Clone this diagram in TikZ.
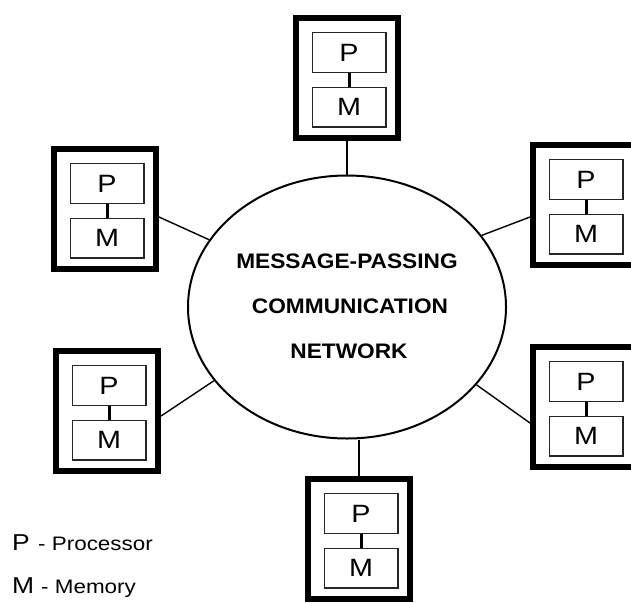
\documentclass[tikz,border=0pt]{standalone}
\usepackage{fontspec}
\setmainfont{Liberation Sans}
\newfontfamily\widesans[FakeStretch=1.15]{Liberation Sans}
\newfontfamily\widebold[FakeStretch=1.08]{Liberation Sans Bold}
\usetikzlibrary{shapes.geometric}

\tikzset{
  frame/.style={draw, line width=6pt, minimum width=102pt, minimum height=120pt, inner sep=0pt},
  cell/.style={draw=black!85, line width=1.4pt, minimum width=73.6pt, minimum height=39.6pt, inner sep=0pt,
               font=\widesans\fontsize{25}{25}\selectfont},
  bus/.style={line width=3pt},
  link/.style={line width=1.4pt},
  net/.style={ellipse, draw, line width=2pt, minimum width=318pt, minimum height=263pt, inner sep=0pt},
  caption/.style={anchor=base, inner sep=0pt, font=\widebold\fontsize{21}{21}\selectfont},
  legendkey/.style={anchor=base west, inner sep=0pt, font=\widesans\fontsize{23}{23}\selectfont},
  legendtext/.style={anchor=base west, inner sep=0pt, font=\widesans\fontsize{19.5}{19.5}\selectfont},
}

% processor/memory unit: name, x and y of the frame's top-left corner
\newcommand\pmunit[3]{%
  \node[frame] (#1) at (#2+54,#3+63) {};
  \node[cell] (#1p) at (#2+56,#3+37.5) {P};
  \node[cell] (#1m) at (#2+56,#3+92) {M};
  \draw[bus] (#1p) -- (#1m);
}

\begin{document}
\begin{tikzpicture}[x=1pt,y=-1pt]
  \useasboundingbox (0,0) rectangle (631,602);

  % central network
  \node[net] (net) at (347,307) {};
  \node[caption] (l1) at (347,268) {MESSAGE-PASSING};
  \node[caption] (l2) at (350,313) {COMMUNICATION};
  \node[caption] (l3) at (349,358) {NETWORK};

  % the six processing nodes
  \pmunit{tp}{293}{15}
  \pmunit{ul}{51}{146}
  \pmunit{ur}{530}{142}
  \pmunit{ll}{53}{348}
  \pmunit{lr}{530}{344}
  \pmunit{bt}{305}{476}

  % links to the network
  \draw[link] (tp.south) -- (net.north);
  \draw[link] ([yshift=-8pt]ul.east) -- (net.154);
  \draw[link] ([yshift=-12pt]ur.west) -- (net.28);
  \draw[link] ([yshift=-5pt]ll.east) -- (net.209);
  \draw[link] ([yshift=-16pt]lr.west) -- (net.329);
  \draw[link] (bt.north) -- (net.south -| bt.north);

  % legend
  \node[legendkey] (kp) at (12,550) {P};
  \node[legendtext] (tpr) at (38,550) {- Processor};
  \node[legendkey] (km) at (12,593) {M};
  \node[legendtext] (tme) at (41,593) {- Memory};
\end{tikzpicture}
\end{document}
